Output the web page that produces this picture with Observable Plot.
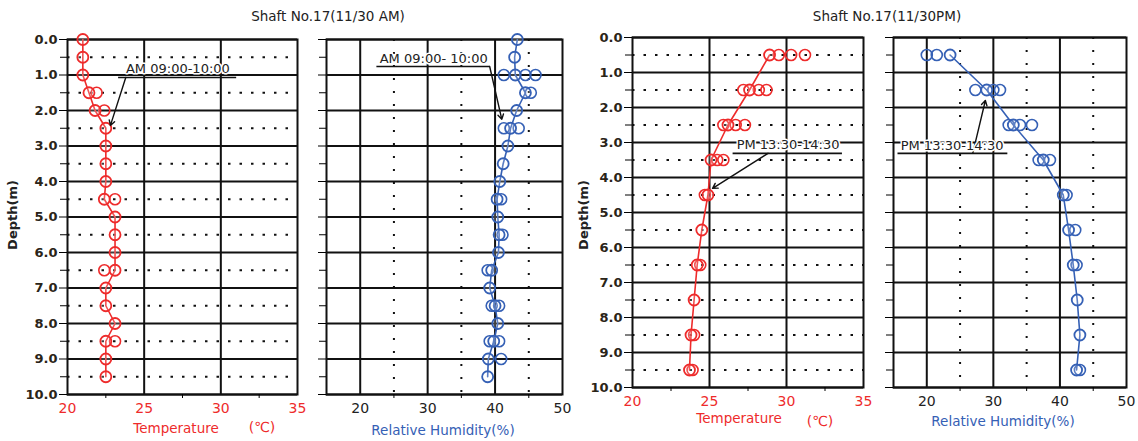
<!DOCTYPE html>
<html><head><meta charset="utf-8">
<script src="https://cdn.jsdelivr.net/npm/d3@7"></script>
<script src="https://cdn.jsdelivr.net/npm/@observablehq/plot@0.6"></script>
<style>
html,body{margin:0;padding:0;background:#fff;}
#wrap{position:relative;width:1138px;height:441px;overflow:hidden;font-family:"DejaVu Sans",sans-serif;}
#wrap svg{position:absolute;top:0;overflow:visible;}
.lbl{position:absolute;white-space:nowrap;font-size:13px;letter-spacing:0px;}
</style></head>
<body><div id="wrap"></div>
<script>
// ---------- data ----------
const amDepths = [0,0.5,1,1.5,2,2.5,3,3.5,4,4.5,5,5.5,6,6.5,7,7.5,8,8.5,9,9.5];
const amTemp   = [21.0,21.0,21.0,21.4,21.8,22.5,22.5,22.5,22.5,22.4,23.1,23.1,23.1,23.1,22.5,22.5,23.1,22.5,22.5,22.5];
const amTempExtraDepth = [1.5,2.0,4.5,6.5,8.5];
const amTempExtra      = [21.9,22.4,23.1,22.4,23.1];
const amRH     = [43.3,42.9,43.0,44.5,43.2,42.3,41.9,41.2,40.7,40.3,40.4,40.6,40.5,39.5,39.2,40.0,40.4,39.8,39.0,38.9];
const amRHExtraDepth = [1.0,1.0,1.0,1.5,2.5,2.5,4.5,5.5,6.5,7.5,7.5,8.5,8.5,9.0];
const amRHExtra      = [41.3,44.5,46.0,45.3,41.3,43.5,40.9,41.1,38.9,39.5,40.6,39.2,40.6,40.9];

const pmDepths = [0.5,1.5,2.5,3.5,4.5,5.5,6.5,7.5,8.5,9.5];
const pmTemp   = [28.9,27.6,26.2,25.1,24.9,24.5,24.2,24.0,23.8,23.7];
const pmTempExtraDepth = [0.5,0.5,0.5,1.5,1.5,1.5,2.5,2.5,2.5,3.5,3.5,4.5,6.5,8.5,9.5];
const pmTempExtra      = [29.5,30.3,31.2,27.2,28.2,28.7,25.9,26.7,27.3,25.5,25.9,24.7,24.4,24.0,23.9];
const pmRH     = [23.5,29.0,33.0,37.5,40.5,41.3,42.0,42.6,43.0,42.5];
const pmRHExtraDepth = [0.5,0.5,1.5,1.5,1.5,2.5,2.5,2.5,3.5,3.5,4.5,5.5,6.5,9.5];
const pmRHExtra      = [20.0,21.5,27.3,30.0,31.0,32.3,34.0,35.8,36.8,38.5,41.0,42.3,42.5,43.0];

const intDepths  = [0,1,2,3,4,5,6,7,8,9,10];
const halfDepths = [0.5,1.5,2.5,3.5,4.5,5.5,6.5,7.5,8.5,9.5];
const tempTicks  = [20,25,30,35];
const tempMinor  = [22.5,27.5,32.5];
const rhTicks    = [20,30,40,50];
const rhMinor    = [25,35,45];

const annotations = [
  {panel:0, text:"AM 09:00-10:00",  tx:27.2, ty:0.82, ux1:23.3, ux2:31.0, uy:1.07, ax1:23.8, ay1:1.07, ax2:22.8, ay2:2.42},
  {panel:1, text:"AM 09:00- 10:00", tx:30.9, ty:0.54, ux1:22.4, ux2:39.2, uy:0.76, ax1:39.2, ay1:0.76, ax2:41.0, ay2:2.25},
  {panel:2, text:"PM 13:30-14:30",  tx:30.1, ty:3.06, ux1:26.5, ux2:33.6, uy:3.31, ax1:28.8, ay1:3.31, ax2:25.2, ay2:4.31},
  {panel:3, text:"PM 13:30-14:30",  tx:23.8, ty:3.09, ux1:15.6, ux2:32.1, uy:3.31, ax1:26.9, ay1:3.31, ax2:28.8, ay2:1.8}
];

// ---------- drawing ----------
const RED = "#ee2b2b", BLUE = "#3560b5";
const wrap = document.getElementById("wrap");

function panel(cfg){
  const {left, width, mt, mb, ml, mr, xdom, xticks, xminor, xTickColor, color,
         depths, vals, exD, exV, solidX, dottedX, dottedY, yLabels, idx} = cfg;
  const a = annotations[idx];
  const main = depths.map((d,i)=>({d, v: vals[i]}));
  const extra = exD.map((d,i)=>({d, v: exV[i]}));
  const marks = [
    Plot.ruleY(intDepths, {stroke:"#111", strokeWidth:2}),
    solidX.length ? Plot.ruleX(solidX, {stroke:"#111", strokeWidth:2}) : null,
    dottedY ? Plot.ruleY(halfDepths, {stroke:"#111", strokeWidth:2, strokeDasharray:"2.5,9"}) : null,
    dottedX.length ? Plot.ruleX(dottedX, {stroke:"#111", strokeWidth:2, strokeDasharray:"2,11"}) : null,
    Plot.frame({stroke:"#111", strokeWidth:2}),
    Plot.axisY({ticks:intDepths, tickSize:8, tickWidth:2, tickPadding:2,
      tickFormat: yLabels ? (d=>d.toFixed(1)) : (()=>""), fontSize:13, fill:"#2a2418", fontWeight:"bold", label:null}),
    Plot.axisY({ticks:halfDepths, tickSize:7, tickWidth:2, tickFormat:()=>"", label:null}),
    Plot.axisX({ticks:xticks, tickSize:0, tickPadding:9, fontSize:14, fill:xTickColor, label:null}),
    Plot.axisX({ticks:xminor, tickSize:4, tickFormat:()=>"", label:null}),
    Plot.line(main, {x:"v", y:"d", stroke:color, strokeWidth:1.6}),
    Plot.dot(extra, {x:"v", y:"d", r:5.5, stroke:color, strokeWidth:1.6, fill:"none"}),
    Plot.dot(main, {x:"v", y:"d", r:5.5, stroke:color, strokeWidth:1.8, fill:"white", fillOpacity:0.2}),
    Plot.link([a], {x1:"ux1", x2:"ux2", y1:"uy", y2:"uy", stroke:"#111", strokeWidth:1.6}),
    Plot.arrow([a], {x1:"ax1", y1:"ay1", x2:"ax2", y2:"ay2", stroke:"#111", strokeWidth:1.4, headLength:6}),
    Plot.text([a], {x:"tx", y:"ty", text:"text", fontSize:13, fill:"#222", stroke:"white", strokeWidth:3, paintOrder:"stroke"})
  ].filter(Boolean);
  const svg = Plot.plot({
    width, height:441, marginTop:mt, marginBottom:mb, marginLeft:ml, marginRight:mr,
    style:{fontFamily:"DejaVu Sans, sans-serif", background:"transparent", overflow:"visible"},
    x:{domain:xdom}, y:{domain:[0,10], reverse:true},
    marks
  });
  svg.style.left = left + "px";
  wrap.appendChild(svg);
}

panel({idx:0, left:0, width:305, mt:39, mb:47, ml:67, mr:8, xdom:[20,35], xticks:tempTicks, xminor:tempMinor,
  xTickColor:RED, color:RED, depths:amDepths, vals:amTemp, exD:amTempExtraDepth, exV:amTempExtra,
  solidX:[25,30], dottedX:[], dottedY:true, yLabels:true});
panel({idx:1, left:305, width:270, mt:39, mb:47, ml:21, mr:13, xdom:[15,50], xticks:rhTicks, xminor:rhMinor,
  xTickColor:"#222", color:BLUE, depths:amDepths, vals:amRH, exD:amRHExtraDepth, exV:amRHExtra,
  solidX:[20,30,40], dottedX:rhMinor, dottedY:false, yLabels:false});
panel({idx:2, left:575, width:295, mt:37, mb:54, ml:57, mr:7, xdom:[20,35], xticks:tempTicks, xminor:tempMinor,
  xTickColor:RED, color:RED, depths:pmDepths, vals:pmTemp, exD:pmTempExtraDepth, exV:pmTempExtra,
  solidX:[25,30], dottedX:[], dottedY:true, yLabels:true});
panel({idx:3, left:870, width:268, mt:37, mb:54, ml:23, mr:12, xdom:[15,50], xticks:rhTicks, xminor:rhMinor,
  xTickColor:"#222", color:BLUE, depths:pmDepths, vals:pmRH, exD:pmRHExtraDepth, exV:pmRHExtra,
  solidX:[20,30,40], dottedX:rhMinor, dottedY:false, yLabels:false});

// ---------- titles & labels ----------
function label(text, x, y, opts={}){
  const el = document.createElement("div");
  el.className = "lbl";
  el.textContent = text;
  el.style.left = x + "px"; el.style.top = y + "px";
  el.style.transform = opts.rotate ? "translate(-50%,-50%) rotate(-90deg)" : "translate(-50%,-50%)";
  if (opts.color) el.style.color = opts.color;
  if (opts.size) el.style.fontSize = opts.size + "px";
  if (opts.bold) el.style.fontWeight = "bold";
  wrap.appendChild(el);
}
label("Shaft No.17(11/30 AM)", 328, 16, {color:"#222", size:13.5});
label("Shaft No.17(11/30PM)", 887, 16, {color:"#222", size:13.5});
label("Depth(m)", 12, 215, {rotate:true, color:"#222", bold:true});
label("Depth(m)", 583, 215, {rotate:true, color:"#222", bold:true});
label("Temperature", 176, 428, {color:RED, size:13.5});
label("(℃)", 262, 427, {color:RED, size:14});
label("Relative Humidity(%)", 443, 430, {color:BLUE, size:13.5});
label("Temperature", 739, 418, {color:RED, size:13.5});
label("(℃)", 820, 421, {color:RED, size:14});
label("Relative Humidity(%)", 1003, 421, {color:BLUE, size:13.5});
</script></body></html>
